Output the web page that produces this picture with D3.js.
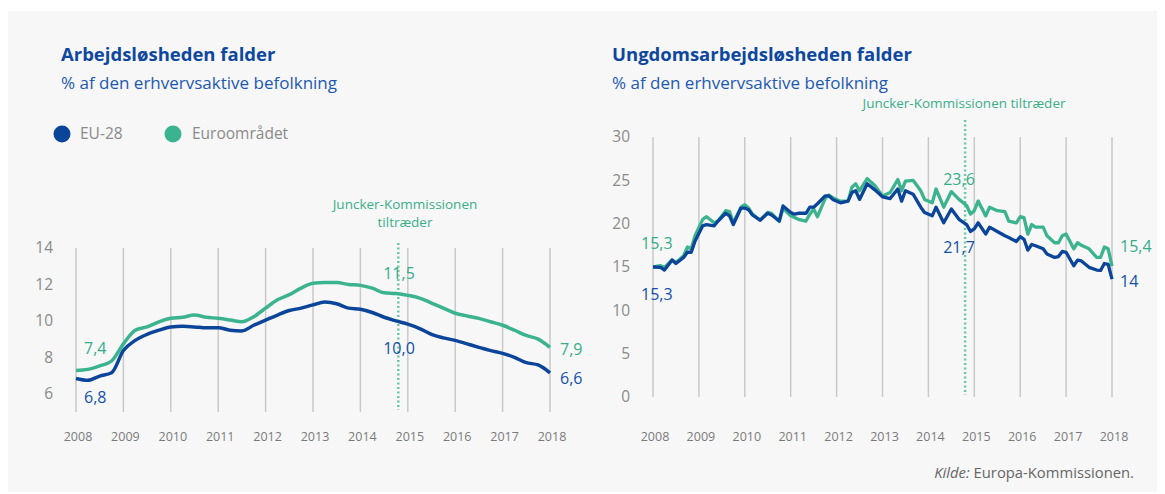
<!DOCTYPE html>
<html>
<head>
<meta charset="utf-8">
<script src="https://cdn.jsdelivr.net/npm/d3@7"></script>
<style>
   body { margin: 0; background: #fff; }
   svg text { font-family: "Open Sans", "Noto Sans", sans-serif; }
   .title { font-size: 18.5px; font-weight: 700; fill: #0d479f; }
   .subTitle { font-size: 17px; fill: #1c59b2; }
   .tickLabel { font-size: 15.5px; fill: #8a8a8a; }
   .yearLabel { font-size: 12.5px; fill: #7a7a7a; }
   .legend { font-size: 15.5px; fill: #8a8a8a; }
   .note { font-size: 13.5px; fill: #3aae89; }
   .valueLabel { font-size: 16px; font-weight: 500; }
   .caption { font-size: 14.8px; fill: #666; }
</style>
</head>
<body>
<div id="container"></div>
<script>
   const width = 1165;
   const height = 494;

   const blue = "#0b4599";
   const green = "#3bb38e";
   const blueText = "#1251a8";
   const greenText = "#36ad88";

   // years shown on the x axis (months counted from Jan 2008)
   const years = [2008, 2009, 2010, 2011, 2012, 2013, 2014, 2015, 2016, 2017, 2018];
   const junckerMonth = 81.6;

   // left chart: unemployment, quarterly readings
   const adultMonths = [0, 3, 6, 9, 12, 15, 18, 21, 24, 27, 30, 33, 36, 39, 42, 45, 48, 51, 54, 57,
      60, 63, 66, 69, 72, 75, 78, 81, 84, 87, 90, 93, 96, 99, 102, 105, 108, 111, 114, 117, 120];
   const adultEU28 = [6.84, 6.74, 6.97, 7.15, 8.37, 8.93, 9.26, 9.49, 9.67, 9.71, 9.67, 9.62, 9.62, 9.49,
      9.45, 9.76, 10.04, 10.32, 10.57, 10.7, 10.88, 11.03, 10.94, 10.7, 10.64, 10.46, 10.2, 10.0, 9.82,
      9.58, 9.26, 9.07, 8.93, 8.74, 8.55, 8.37, 8.22, 8.0, 7.71, 7.58, 7.15];
   const adultEuro = [7.28, 7.34, 7.53, 7.8, 8.74, 9.49, 9.67, 9.95, 10.14, 10.2, 10.32, 10.2, 10.14, 10.05,
      9.95, 10.23, 10.7, 11.16, 11.44, 11.8, 12.06, 12.1, 12.1, 12.0, 11.95, 11.8, 11.54, 11.5, 11.4,
      11.25, 10.98, 10.7, 10.42, 10.27, 10.14, 9.95, 9.76, 9.49, 9.2, 9.0, 8.55];
   const adultTicks = [6, 8, 10, 12, 14];

   // right chart: youth unemployment
   const youthMonths = [0, 2, 3, 5, 6, 8, 9, 10, 11, 13, 14, 16, 17, 19, 20, 21, 23, 24, 25, 26, 28, 30,
      31, 33, 34, 36, 37, 38, 40, 41, 42, 43, 45, 46, 47, 49, 51, 52, 53, 54, 56, 58, 59, 60, 62, 64,
      65, 66, 68, 70, 71, 73, 74, 76, 78, 80, 82, 83, 84, 85, 87, 88, 90, 92, 93, 95, 96, 97, 98, 99,
      100, 102, 103, 105, 106, 107, 108, 110, 111, 112, 114, 116, 117, 118, 119, 120];
   const youthEuro = [15.0, 15.15, 14.96, 15.8, 15.5, 16.3, 17.3, 17.1, 18.6, 20.5, 20.8, 20.1, 20.3, 21.5,
      21.4, 20.1, 21.9, 22.2, 21.8, 21.1, 20.4, 21.3, 21.2, 20.25, 21.8, 20.9, 20.7, 20.5, 20.3, 21.1,
      21.7, 20.8, 22.9, 23.3, 23.0, 22.6, 22.6, 24.2, 24.6, 23.8, 25.2, 24.4, 23.8, 23.2, 23.6, 25.1,
      23.8, 24.9, 25.0, 23.8, 22.8, 22.4, 24.0, 21.9, 23.7, 22.8, 22.1, 21.1, 21.5, 22.6, 20.9, 21.9,
      21.5, 21.4, 20.3, 20.1, 20.8, 20.7, 18.8, 19.9, 19.6, 19.6, 18.6, 17.8, 17.8, 18.6, 18.8, 17.1,
      17.8, 17.5, 17.1, 16.1, 16.1, 17.3, 17.1, 15.1];
   const youthEU28 = [15.0, 14.96, 14.65, 15.8, 15.4, 16.1, 16.7, 16.7, 18.0, 19.75, 19.9, 19.75, 20.3, 21.2,
      20.9, 19.9, 21.8, 21.8, 21.6, 21.0, 20.4, 21.2, 21.0, 20.3, 22.05, 21.3, 21.1, 21.2, 21.2, 21.9,
      21.9, 22.3, 23.2, 23.2, 22.8, 22.4, 22.6, 23.6, 23.8, 22.8, 24.6, 23.9, 23.5, 23.1, 22.9, 24.0,
      22.6, 23.8, 23.4, 21.9, 21.3, 20.9, 21.9, 20.1, 21.7, 20.5, 19.9, 19.1, 19.4, 20.1, 18.8, 19.6,
      19.1, 18.6, 18.4, 17.95, 18.5, 18.2, 16.95, 17.6, 17.45, 17.1, 16.5, 16.1, 16.2, 16.8, 16.7, 15.15,
      15.8, 15.7, 14.96, 14.65, 14.6, 15.4, 15.3, 13.6];
   const youthTicks = [0, 5, 10, 15, 20, 25, 30];

   const svg = d3.select("#container").append("svg")
      .attr("width", width)
      .attr("height", height);

   svg.append("rect")
      .attr("x", 8)
      .attr("y", 11)
      .attr("width", 1149)
      .attr("height", 481)
      .style("fill", "#f7f7f7");

   function drawPanel(opt) {
      const g = svg.append("g");

      g.append("text").attr("class", "title")
         .attr("x", opt.left).attr("y", 61).text(opt.title);
      g.append("text").attr("class", "subTitle")
         .attr("x", opt.left).attr("y", 89).text("% af den erhvervsaktive befolkning");

      const x = d3.scaleLinear().domain([0, 120]).range(opt.xRange);
      const y = d3.scaleLinear().domain(opt.yDomain).range(opt.yRange);

      // vertical year gridlines
      g.selectAll("line.grid")
         .data(years)
         .enter()
         .append("line")
         .attr("class", "grid")
         .attr("x1", d => x((d - 2008) * 12))
         .attr("x2", d => x((d - 2008) * 12))
         .attr("y1", y(opt.yDomain[1]))
         .attr("y2", y(opt.yDomain[0]))
         .style("stroke", "#c9c9c9")
         .style("stroke-width", 1.5);

      g.selectAll("text.yearLabel")
         .data(years)
         .enter()
         .append("text")
         .attr("class", "yearLabel")
         .attr("x", d => x((d - 2008) * 12) + 2)
         .attr("y", 441)
         .style("text-anchor", "middle")
         .text(d => d);

      g.selectAll("text.tickLabel")
         .data(opt.ticks)
         .enter()
         .append("text")
         .attr("class", "tickLabel")
         .attr("x", opt.xRange[0] - 23)
         .attr("y", d => y(d))
         .attr("dy", "0.35em")
         .style("text-anchor", "end")
         .text(d => d);

      // Juncker line
      g.append("line")
         .attr("x1", x(junckerMonth)).attr("x2", x(junckerMonth))
         .attr("y1", opt.dotTop).attr("y2", y(opt.yDomain[0]) - 2)
         .style("stroke", "#6cc7a8")
         .style("stroke-width", 2.5)
         .style("stroke-dasharray", "2,2.5");

      opt.note.forEach((t, i) => {
         g.append("text").attr("class", "note")
            .attr("x", opt.noteX).attr("y", opt.noteY + i * 18)
            .style("text-anchor", "middle")
            .text(t);
      });

      const line = d3.line()
         .x((d, i) => x(opt.months[i]))
         .y(d => y(d))
         .curve(opt.curve);

      g.append("path").datum(opt.euro)
         .attr("d", line)
         .style("fill", "none")
         .style("stroke", green)
         .style("stroke-width", opt.lineWidth)
         .style("stroke-linejoin", "round");

      g.append("path").datum(opt.eu28)
         .attr("d", line)
         .style("fill", "none")
         .style("stroke", blue)
         .style("stroke-width", opt.lineWidth)
         .style("stroke-linejoin", "round");

      opt.labels.forEach(l => {
         g.append("text").attr("class", "valueLabel")
            .attr("x", l.x).attr("y", l.y)
            .attr("dy", "0.35em")
            .style("text-anchor", l.anchor || "start")
            .style("fill", l.c)
            .text(l.t);
      });
      return g;
   }

   drawPanel({
      left: 61,
      title: "Arbejdsløsheden falder",
      xRange: [76, 550],
      yDomain: [5, 14],
      yRange: [412, 248],
      ticks: adultTicks,
      months: adultMonths,
      euro: adultEuro,
      eu28: adultEU28,
      curve: d3.curveMonotoneX,
      lineWidth: 3.5,
      dotTop: 243,
      note: ["Juncker-Kommissionen", "tiltræder"],
      noteX: 405,
      noteY: 209,
      labels: [
         { t: "7,4", x: 84, y: 348, c: greenText },
         { t: "6,8", x: 84, y: 397, c: blueText },
         { t: "11,5", x: 399, y: 273, c: greenText, anchor: "middle" },
         { t: "10,0", x: 399, y: 348, c: blueText, anchor: "middle" },
         { t: "7,9", x: 560, y: 349, c: greenText },
         { t: "6,6", x: 560, y: 378, c: blueText }
      ]
   });

   drawPanel({
      left: 612,
      title: "Ungdomsarbejdsløsheden falder",
      xRange: [653, 1112],
      yDomain: [0, 30],
      yRange: [397, 137],
      ticks: youthTicks,
      months: youthMonths,
      euro: youthEuro,
      eu28: youthEU28,
      curve: d3.curveLinear,
      lineWidth: 3.3,
      dotTop: 120,
      note: ["Juncker-Kommissionen tiltræder"],
      noteX: 964,
      noteY: 108,
      labels: [
         { t: "15,3", x: 641, y: 243, c: greenText },
         { t: "15,3", x: 641, y: 294, c: blueText },
         { t: "23,6", x: 959, y: 179, c: greenText, anchor: "middle" },
         { t: "21,7", x: 959, y: 247, c: blueText, anchor: "middle" },
         { t: "15,4", x: 1120, y: 246, c: greenText },
         { t: "14", x: 1120, y: 281, c: blueText }
      ]
   });

   // legend
   const legend = svg.append("g");
   legend.append("circle").attr("cx", 62).attr("cy", 134).attr("r", 8.5).style("fill", blue);
   legend.append("text").attr("class", "legend").attr("x", 80).attr("y", 134).attr("dy", "0.35em").text("EU-28");
   legend.append("circle").attr("cx", 173).attr("cy", 134).attr("r", 8.5).style("fill", green);
   legend.append("text").attr("class", "legend").attr("x", 192).attr("y", 134).attr("dy", "0.35em").text("Euroområdet");

   svg.append("text")
      .attr("class", "caption")
      .attr("x", 1134)
      .attr("y", 478)
      .style("text-anchor", "end")
      .html('<tspan font-style="italic">Kilde:</tspan> Europa-Kommissionen.');
</script>
</body>
</html>
